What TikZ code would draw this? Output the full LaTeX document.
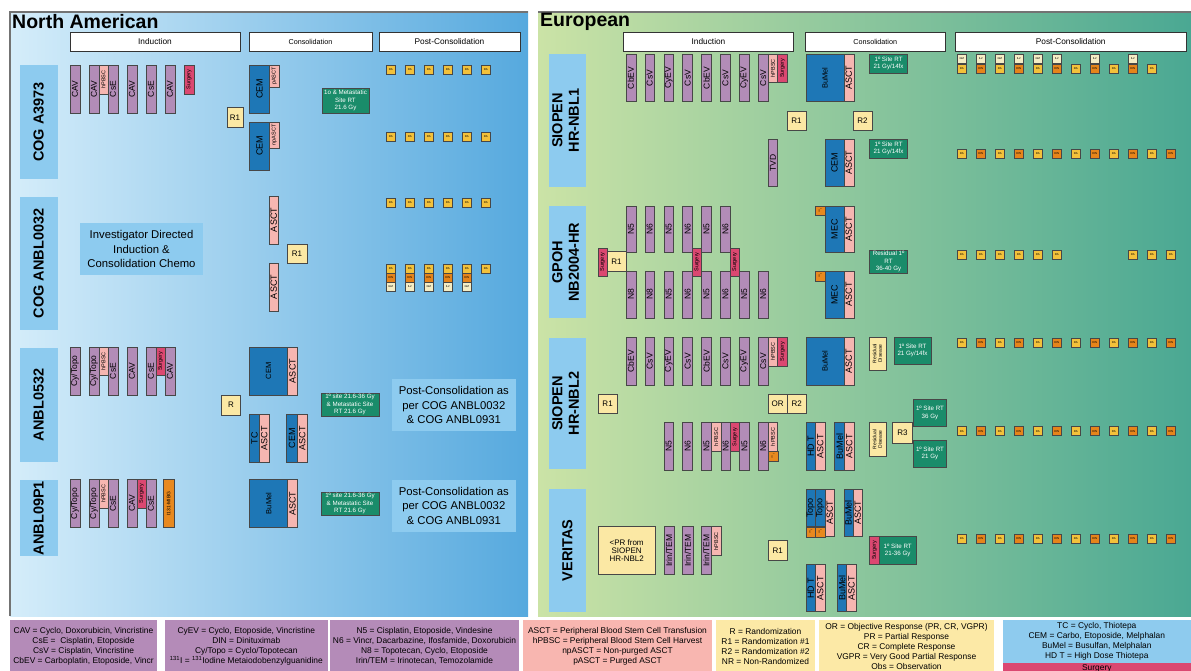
\documentclass[tikz,border=0pt]{standalone}
\usepackage{fontspec}
\setmainfont{Liberation Sans}
\usepackage{graphicx}
\definecolor{cChemo}{HTML}{B28CB7}
\definecolor{cPink}{HTML}{F6B6B1}
\definecolor{cSurg}{HTML}{DB4871}
\definecolor{cBlue}{HTML}{1E77B6}
\definecolor{cRand}{HTML}{FBE8A4}
\definecolor{cRT}{HTML}{1A8C6A}
\definecolor{cMIBG}{HTML}{E8891F}
\definecolor{cRA}{HTML}{F3C13A}
\definecolor{cDIN}{HTML}{E6841A}
\definecolor{cGM}{HTML}{F5EDC4}
\definecolor{cLab}{HTML}{8DCBEF}
\definecolor{naL}{HTML}{D5EDFA}
\definecolor{naR}{HTML}{56A9DE}
\definecolor{euL}{HTML}{CBE3A6}
\definecolor{euM}{HTML}{A2D7CB}
\definecolor{euR}{HTML}{4AA893}
\definecolor{lgPur}{HTML}{B48BB8}
\definecolor{lgPink}{HTML}{F8B6B0}
\definecolor{lgYel}{HTML}{FCE9A6}
\definecolor{lgBlue}{HTML}{8ECBEE}
\newcommand{\rtx}[1]{\rotatebox{90}{#1}}
\newcommand{\rtt}[1]{\rotatebox{90}{\begin{tabular}{@{}c@{}}#1\end{tabular}}}
\newcommand{\bx}[7]{\node[#2,minimum width={(#5-#3)*1pt},minimum height={(#6-#4)*1pt}] (#1) at ({(#3+#5)/2},{(#4+#6)/2}) {#7};}
\newcommand{\sbx}[5]{\node[#2,minimum width=9.5pt,minimum height=9pt] (#1) at ({#3+4.75},{#4+4.5}) {#5};}
\newcommand{\radin}[2]{%
\foreach \i in {0,2,...,10}{\sbx{#1\i}{ra}{957+19*\i}{#2}{RA}}%
\foreach \i in {1,3,...,11}{\sbx{#1\i}{din}{957+19*\i}{#2}{DIN}}}
\tikzset{
 bb/.style={draw=black!72,line width=0.6pt,inner sep=0pt,outer sep=0pt,align=center},
 chemo/.style={bb,fill=cChemo,font=\fontsize{8.5}{8.5}\selectfont},
 pk/.style={bb,fill=cPink,font=\fontsize{9}{9}\selectfont},
 pks/.style={bb,fill=cPink,font=\fontsize{5.5}{5.5}\selectfont},
 surg/.style={bb,fill=cSurg,font=\fontsize{5.5}{5.5}\selectfont},
 bl/.style={bb,fill=cBlue,font=\fontsize{9}{9}\selectfont},
 bls/.style={bb,fill=cBlue,font=\fontsize{7.5}{7.5}\selectfont},
 rnd/.style={bb,fill=cRand,font=\fontsize{8}{8}\selectfont},
 rnds/.style={bb,fill=cRand,font=\fontsize{5}{5.5}\selectfont},
 rtb/.style={bb,fill=cRT,text=white,font=\fontsize{6.2}{7.3}\selectfont},
 mibg/.style={bb,fill=cMIBG,font=\fontsize{5}{5}\selectfont},
 mini/.style={bb,fill=cMIBG,line width=0.4pt,font=\fontsize{2.5}{2.5}\selectfont},
 ra/.style={bb,line width=0.5pt,fill=cRA,font=\fontsize{2.8}{2.8}\selectfont},
 din/.style={ra,fill=cDIN},
 gm/.style={ra,fill=cGM},
 lab/.style={fill=cLab,inner sep=0pt,outer sep=0pt,font=\fontsize{14.5}{16.5}\bfseries\selectfont},
 info/.style={fill=cLab,inner sep=0pt,outer sep=0pt,align=center,font=\fontsize{11.3}{14.5}\selectfont},
 hdr/.style={draw=black!80,fill=white,line width=0.8pt,inner sep=0pt,outer sep=0pt,font=\fontsize{8.3}{8.3}\selectfont},
 hdrs/.style={hdr,font=\fontsize{7.2}{7.2}\selectfont},
 leg/.style={inner sep=0pt,outer sep=0pt,align=center,font=\fontsize{8.4}{10}\selectfont},
 ttl/.style={inner sep=0pt,anchor=west,font=\fontsize{19.5}{19.5}\bfseries\selectfont},
}
\begin{document}
\begin{tikzpicture}[x=1pt,y=-1pt]
\useasboundingbox (0,0) rectangle (1191,671);
\fill[white] (0,0) rectangle (1191,671);
% panels
\fill[left color=naL,right color=naR] (10,12) rectangle (528,616);
\fill[left color=euL,middle color=euM,right color=euR] (538,12) rectangle (1191,616);
\draw[black!55,line width=1.6pt] (10,616) -- (10,12) -- (528,12);
\draw[black!55,line width=1.6pt] (538,12) -- (1191,12);
\node[ttl] (tNA) at (12,22) {North American};
\node[ttl] (tEU) at (540,22) {European};
% headers
\bx{hNAi}{hdr}{70}{32}{240}{51}{Induction}
\bx{hNAc}{hdrs}{249}{32}{372}{51}{Consolidation}
\bx{hNAp}{hdr}{379}{32}{520}{51}{Post-Consolidation}
\bx{hEUi}{hdr}{623.5}{32}{793.5}{51}{Induction}
\bx{hEUc}{hdrs}{805.5}{32}{945}{51}{Consolidation}
\bx{hEUp}{hdr}{955.5}{32}{1186}{51}{Post-Consolidation}
% row labels
\bx{lA3973}{lab}{19.6}{65}{57.5}{179}{\rtx{COG A3973}}
\bx{lA0032}{lab}{19.6}{197}{57.5}{330}{\rtx{COG ANBL0032}}
\bx{lA0532}{lab}{19.6}{347.5}{57.5}{462}{\rtx{ANBL0532}}
\bx{lA09P1}{lab}{19.6}{480}{57.5}{556}{\rtx{ANBL09P1}}
\bx{lNBL1}{lab}{548.8}{54.3}{586}{186.7}{\rtt{SIOPEN\\HR-NBL1}}
\bx{lGPOH}{lab}{548.8}{206}{586}{318}{\rtt{GPOH\\NB2004-HR}}
\bx{lNBL2}{lab}{548.8}{338}{586}{469}{\rtt{SIOPEN\\HR-NBL2}}
\bx{lVER}{lab}{548.8}{489}{586}{611.7}{\rtx{VERITAS}}
% ===== COG A3973
\bx{a1}{chemo}{70}{65}{80}{113}{\rtx{CAV}}
\bx{a2}{chemo}{89}{65}{99}{113}{\rtx{CAV}}
\bx{a3}{pks}{99}{65}{108}{94}{\rtx{hPBSC}}
\bx{a4}{chemo}{108}{65}{118}{113}{\rtx{CsE}}
\bx{a5}{chemo}{127}{65}{137}{113}{\rtx{CAV}}
\bx{a6}{chemo}{146}{65}{156}{113}{\rtx{CsE}}
\bx{a7}{chemo}{165}{65}{175}{113}{\rtx{CAV}}
\bx{a8}{surg}{184}{65}{194}{94}{\rtx{Surgery}}
\bx{a9}{bl}{249.5}{65}{269.5}{113}{\rtx{CEM}}
\bx{a10}{pks}{269.5}{65}{279}{87}{\rtx{pASCT}}
\bx{a11}{rnd}{227}{107.5}{243}{127.5}{R1}
\bx{a12}{bl}{249.5}{122}{269.5}{170}{\rtx{CEM}}
\bx{a13}{pks}{269.5}{122}{279}{148}{\rtx{npASCT}}
\bx{a14}{rtb}{322}{88}{369}{113}{1o \& Metastatic\\Site RT\\21.6 Gy}
\foreach \i in {0,...,5}{\sbx{aRA\i}{ra}{386+19*\i}{65}{RA}}
\foreach \i in {0,...,5}{\sbx{aRB\i}{ra}{386+19*\i}{132}{RA}}
% ===== COG ANBL0032
\bx{b1}{info}{80}{223}{203}{275}{Investigator Directed\\Induction \&\\Consolidation Chemo}
\bx{b2}{pk}{269}{196}{278.5}{244}{\rtx{ASCT}}
\bx{b3}{pk}{269}{263}{278.5}{311}{\rtx{ASCT}}
\bx{b4}{rnd}{287}{244}{307}{263}{R1}
\foreach \i in {0,...,5}{\sbx{bRA\i}{ra}{386+19*\i}{198}{RA}}
\foreach \i in {0,...,5}{\sbx{bRB\i}{ra}{386+19*\i}{264}{RA}}
\foreach \i in {0,...,4}{\sbx{bDN\i}{din}{386+19*\i}{273}{DIN}}
\foreach \i in {0,2,4}{\sbx{bGM\i}{gm}{386+19*\i}{282}{GM}}
\foreach \i in {1,3}{\sbx{bIL\i}{gm}{386+19*\i}{282}{IL2}}
% ===== ANBL0532
\bx{c1}{chemo}{70}{347}{80}{395}{\rtx{Cy/Topo}}
\bx{c2}{chemo}{89}{347}{99}{395}{\rtx{Cy/Topo}}
\bx{c3}{pks}{99}{347}{108}{375.5}{\rtx{hPBSC}}
\bx{c4}{chemo}{108}{347}{118}{395}{\rtx{CsE}}
\bx{c5}{chemo}{127}{347}{137}{395}{\rtx{CAV}}
\bx{c6}{chemo}{146}{347}{156}{395}{\rtx{CsE}}
\bx{c7}{surg}{156}{347}{165}{375.5}{\rtx{Surgery}}
\bx{c8}{chemo}{165}{347}{175}{395}{\rtx{CAV}}
\bx{c9}{bls}{249.5}{347}{287.7}{395}{\rtx{CEM}}
\bx{c10}{pk}{287.7}{347}{297.5}{395}{\rtx{ASCT}}
\bx{c11}{rnd}{221.4}{395}{240.7}{415}{R}
\bx{c12}{bl}{249.5}{414}{259.3}{462.5}{\rtx{TC}}
\bx{c13}{pk}{259.3}{414}{269.4}{462.5}{\rtx{ASCT}}
\bx{c14}{bl}{286.3}{414}{297.5}{462.5}{\rtx{CEM}}
\bx{c15}{pk}{297.5}{414}{307}{462.5}{\rtx{ASCT}}
\bx{c16}{rtb}{321}{393}{379}{416}{1º site 21.6-36 Gy\\\& Metastatic Site\\RT 21.6 Gy}
\bx{c17}{info}{392}{379}{515.6}{431}{Post-Consolidation as\\per COG ANBL0032\\\& COG ANBL0931}
% ===== ANBL09P1
\bx{d1}{chemo}{70}{479.5}{80}{527.5}{\rtx{Cy/Topo}}
\bx{d2}{chemo}{89}{479.5}{99}{527.5}{\rtx{Cy/Topo}}
\bx{d3}{pks}{99}{479.5}{108}{508}{\rtx{hPBSC}}
\bx{d4}{chemo}{108}{479.5}{118}{527.5}{\rtx{CsE}}
\bx{d5}{chemo}{127}{479.5}{137}{527.5}{\rtx{CAV}}
\bx{d6}{surg}{137}{479.5}{146}{508}{\rtx{Surgery}}
\bx{d7}{chemo}{146}{479.5}{156}{527.5}{\rtx{CsE}}
\bx{d8}{mibg}{163.6}{479.5}{173.8}{527.5}{\rtx{I131-MIBG}}
\bx{d9}{bls}{249.5}{479.5}{287.7}{527.5}{\rtx{BuMel}}
\bx{d10}{pk}{287.7}{479.5}{297.5}{527.5}{\rtx{ASCT}}
\bx{d11}{rtb}{321}{492}{379}{515}{1º site 21.6-36 Gy\\\& Metastatic Site\\RT 21.6 Gy}
\bx{d12}{info}{392}{479.5}{515.6}{532}{Post-Consolidation as\\per COG ANBL0032\\\& COG ANBL0931}
% ===== SIOPEN HR-NBL1
\bx{e1}{chemo}{626}{54.3}{635.8}{101.7}{\rtx{CbEV}}
\bx{e2}{chemo}{644.9}{54.3}{654.7}{101.7}{\rtx{CsV}}
\bx{e3}{chemo}{663.8}{54.3}{673.6}{101.7}{\rtx{CyEV}}
\bx{e4}{chemo}{682.7}{54.3}{692.5}{101.7}{\rtx{CsV}}
\bx{e5}{chemo}{701.6}{54.3}{711.4}{101.7}{\rtx{CbEV}}
\bx{e6}{chemo}{720.5}{54.3}{730.3}{101.7}{\rtx{CsV}}
\bx{e7}{chemo}{739.4}{54.3}{749.2}{101.7}{\rtx{CyEV}}
\bx{e8}{chemo}{758.3}{54.3}{768.1}{101.7}{\rtx{CsV}}
\bx{e9}{pks}{768.1}{54.3}{777.7}{82}{\rtx{hPBSC}}
\bx{e10}{surg}{777.7}{54.3}{787.3}{82}{\rtx{Surgery}}
\bx{e11}{bls}{806}{54.3}{843.8}{101.7}{\rtx{BuMel}}
\bx{e12}{pk}{843.8}{54.3}{853.8}{101.7}{\rtx{ASCT}}
\bx{e13}{rtb}{869.7}{54.3}{907.4}{73}{1º Site RT\\21 Gy/14fx}
\bx{e14}{rnd}{787}{111}{806}{130}{R1}
\bx{e15}{rnd}{853}{111}{872}{130}{R2}
\bx{e16}{chemo}{768.1}{139}{777.7}{186.7}{\rtx{TVD}}
\bx{e17}{bl}{825}{139}{843.8}{186.7}{\rtx{CEM}}
\bx{e18}{pk}{843.8}{139}{853.8}{186.7}{\rtx{ASCT}}
\bx{e19}{rtb}{869.7}{139}{907.4}{158}{1º Site RT\\21 Gy/14fx}
\foreach \i in {0,2,4}{\sbx{eGM\i}{gm}{957+19*\i}{54.3}{GM}}
\foreach \i in {1,3,5,7,9}{\sbx{eIL\i}{gm}{957+19*\i}{54.3}{IL2}}
\foreach \i in {0,2,...,10}{\sbx{eRA\i}{ra}{957+19*\i}{64.3}{RA}}
\foreach \i in {1,3,5,7,9}{\sbx{eDN\i}{din}{957+19*\i}{64.3}{DIN}}
\radin{eB}{149}
% ===== GPOH NB2004-HR
\bx{g1}{surg}{597.8}{248}{607}{276}{\rtx{Surgery}}
\bx{g2}{rnd}{607}{251.7}{626}{271}{R1}
\bx{g3}{chemo}{626}{206}{635.8}{252.3}{\rtx{N5}}
\bx{g4}{chemo}{644.9}{206}{654.7}{252.3}{\rtx{N6}}
\bx{g5}{chemo}{663.8}{206}{673.6}{252.3}{\rtx{N5}}
\bx{g6}{chemo}{682.7}{206}{692.5}{252.3}{\rtx{N6}}
\bx{g7}{chemo}{701.6}{206}{711.4}{252.3}{\rtx{N5}}
\bx{g8}{chemo}{720.5}{206}{730.3}{252.3}{\rtx{N6}}
\bx{g9}{chemo}{626}{271}{635.8}{318}{\rtx{N8}}
\bx{g10}{chemo}{644.9}{271}{654.7}{318}{\rtx{N8}}
\bx{g11}{chemo}{663.8}{271}{673.6}{318}{\rtx{N5}}
\bx{g12}{chemo}{682.7}{271}{692.5}{318}{\rtx{N6}}
\bx{g13}{chemo}{701.6}{271}{711.4}{318}{\rtx{N5}}
\bx{g14}{chemo}{720.5}{271}{730.3}{318}{\rtx{N6}}
\bx{g15}{chemo}{739.4}{271}{749.2}{318}{\rtx{N5}}
\bx{g16}{chemo}{758.3}{271}{768.1}{318}{\rtx{N6}}
\bx{g17}{surg}{692.5}{248}{701.6}{276}{\rtx{Surgery}}
\bx{g18}{surg}{730.3}{248}{739.4}{276}{\rtx{Surgery}}
\bx{g19}{bl}{825}{206}{843.8}{252.3}{\rtx{MEC}}
\bx{g20}{pk}{843.8}{206}{853.8}{252.3}{\rtx{ASCT}}
\bx{g21}{mini}{815.3}{206}{825}{215}{\rtx{\textsuperscript{131}I}}
\bx{g22}{bl}{825}{271}{843.8}{318}{\rtx{MEC}}
\bx{g23}{pk}{843.8}{271}{853.8}{318}{\rtx{ASCT}}
\bx{g24}{mini}{815.3}{271}{825}{280.7}{\rtx{\textsuperscript{131}I}}
\bx{g25}{rtb}{869.7}{250}{907.4}{273.3}{Residual 1º\\RT\\36-40 Gy}
\foreach \i in {0,...,5,9,10,11}{\sbx{gRA\i}{ra}{957+19*\i}{250}{RA}}
% ===== SIOPEN HR-NBL2
\bx{n1}{chemo}{626}{337.3}{635.8}{385}{\rtx{CbEV}}
\bx{n2}{chemo}{644.9}{337.3}{654.7}{385}{\rtx{CsV}}
\bx{n3}{chemo}{663.8}{337.3}{673.6}{385}{\rtx{CyEV}}
\bx{n4}{chemo}{682.7}{337.3}{692.5}{385}{\rtx{CsV}}
\bx{n5}{chemo}{701.6}{337.3}{711.4}{385}{\rtx{CbEV}}
\bx{n6}{chemo}{720.5}{337.3}{730.3}{385}{\rtx{CsV}}
\bx{n7}{chemo}{739.4}{337.3}{749.2}{385}{\rtx{CyEV}}
\bx{n8}{chemo}{758.3}{337.3}{768.1}{385}{\rtx{CsV}}
\bx{n9}{pks}{768.1}{337.3}{777.7}{366}{\rtx{hPBSC}}
\bx{n10}{surg}{777.7}{337.3}{787.3}{366}{\rtx{Surgery}}
\bx{n11}{bls}{806}{337.3}{843.8}{385}{\rtx{BuMel}}
\bx{n12}{pk}{843.8}{337.3}{853.8}{385}{\rtx{ASCT}}
\bx{n13}{rnds}{869.7}{337.3}{886.5}{370}{\rtt{Residual\\Disease}}
\bx{n14}{rtb}{894}{337.3}{931}{364}{1º Site RT\\21 Gy/14fx}
\bx{n15}{rnd}{597.8}{394}{617.4}{413.3}{R1}
\bx{n16}{rnd}{768}{394}{787.3}{413.3}{OR}
\bx{n17}{rnd}{787.3}{394}{806}{413.3}{R2}
\bx{n18}{chemo}{663.8}{422.7}{673.6}{470}{\rtx{N5}}
\bx{n19}{chemo}{682.7}{422.7}{692.5}{470}{\rtx{N6}}
\bx{n20}{chemo}{701.6}{422.7}{711.4}{470}{\rtx{N5}}
\bx{n21}{pks}{711.4}{422.7}{720.8}{451.3}{\rtx{hPBSC}}
\bx{n22}{chemo}{720.8}{422.7}{730.4}{470}{\rtx{N6}}
\bx{n23}{surg}{730.4}{422.7}{739.6}{451.3}{\rtx{Surgery}}
\bx{n24}{chemo}{739.6}{422.7}{749.2}{470}{\rtx{N5}}
\bx{n25}{chemo}{758.3}{422.7}{768.1}{470}{\rtx{N6}}
\bx{n26}{pks}{768.1}{422.7}{777.7}{451.3}{\rtx{hPBSC}}
\bx{n27}{mini}{768.1}{451.3}{777.7}{460.7}{\rtx{\textsuperscript{131}I}}
\bx{n28}{bl}{806}{422.7}{815.3}{470}{\rtx{HD T}}
\bx{n29}{pk}{815.3}{422.7}{825}{470}{\rtx{ASCT}}
\bx{n30}{bl}{834.6}{422.7}{844.6}{470}{\rtx{BuMel}}
\bx{n31}{pk}{844.6}{422.7}{853.8}{470}{\rtx{ASCT}}
\bx{n32}{rnds}{869.7}{422.7}{886.5}{456}{\rtt{Residual\\Disease}}
\bx{n33}{rnd}{892.7}{422.7}{912.4}{443.3}{R3}
\bx{n34}{rtb}{913.7}{399}{946.3}{426.7}{1º Site RT\\36 Gy}
\bx{n35}{rtb}{913.7}{440}{946.3}{467.3}{1º Site RT\\21 Gy}
\radin{nA}{338.3}
\radin{nB}{426.7}
% ===== VERITAS
\bx{v1}{rnd}{597.8}{526.7}{655.5}{574.3}{<PR from\\SIOPEN\\HR-NBL2}
\bx{v2}{chemo}{664}{526.7}{674.3}{574.3}{\rtx{Irin/TEM}}
\bx{v3}{chemo}{682.7}{526.7}{693}{574.3}{\rtx{Irin/TEM}}
\bx{v4}{chemo}{701.5}{526.7}{711.2}{574.3}{\rtx{Irin/TEM}}
\bx{v5}{pks}{711.2}{526.7}{721}{555.7}{\rtx{hPBSC}}
\bx{v6}{rnd}{768}{540.7}{787.3}{560}{R1}
\bx{v7}{bl}{806}{489}{815.3}{526.7}{\rtx{Topo}}
\bx{v8}{bl}{815.3}{489}{825}{526.7}{\rtx{Topo}}
\bx{v9}{mini}{806}{526.7}{815.3}{536.7}{\rtx{\textsuperscript{131}I}}
\bx{v10}{mini}{815.3}{526.7}{825}{536.7}{\rtx{\textsuperscript{131}I}}
\bx{v11}{pk}{825}{489}{834.6}{536.7}{\rtx{ASCT}}
\bx{v12}{bl}{843.8}{489}{853}{536.7}{\rtx{BuMel}}
\bx{v13}{pk}{853}{489}{862.6}{536.7}{\rtx{ASCT}}
\bx{v14}{surg}{869.7}{536}{879.4}{564.3}{\rtx{Surgery}}
\bx{v15}{rtb}{879.4}{536}{916}{564.3}{1º Site RT\\21-36 Gy}
\bx{v16}{bl}{806}{564.3}{815.3}{611.7}{\rtx{HD T}}
\bx{v17}{pk}{815.3}{564.3}{825}{611.7}{\rtx{ASCT}}
\bx{v18}{bl}{837.5}{564.3}{846.7}{611.7}{\rtx{BuMel}}
\bx{v19}{pk}{846.7}{564.3}{856.3}{611.7}{\rtx{ASCT}}
\radin{vA}{534.3}
% ===== legend
\bx{L1}{leg,fill=lgPur}{10}{620}{157}{672}{CAV = Cyclo, Doxorubicin, Vincristine\\CsE =\ \ Cisplatin, Etoposide\\CsV = Cisplatin, Vincristine\\CbEV = Carboplatin, Etoposide, Vincr}
\bx{L2}{leg,fill=lgPur}{165}{620}{327.6}{672}{CyEV = Cyclo, Etoposide, Vincristine\\DIN = Dinituximab\\Cy/Topo = Cyclo/Topotecan\\\textsuperscript{131}I = \textsuperscript{131}Iodine Metaiodobenzylguanidine}
\bx{L3}{leg,fill=lgPur}{330}{620}{519}{672}{N5 = Cisplatin, Etoposide, Vindesine\\N6 = Vincr, Dacarbazine, Ifosfamide, Doxorubicin\\N8 = Topotecan, Cyclo, Etoposide\\Irin/TEM = Irinotecan, Temozolamide}
\bx{L4}{leg,fill=lgPink}{523}{620}{712}{672}{ASCT = Peripheral Blood Stem Cell Transfusion\\hPBSC = Peripheral Blood Stem Cell Harvest\\npASCT = Non-purged ASCT\\pASCT = Purged ASCT}
\bx{L5}{leg,fill=lgYel}{716}{620}{815}{672}{R = Randomization\\R1 = Randomization \#1\\R2 = Randomization \#2\\NR = Non-Randomized}
\bx{L6}{leg,fill=lgYel}{819}{620}{994}{672}{OR = Objective Response (PR, CR, VGPR)\\PR = Partial Response\\CR = Complete Response\\VGPR = Very Good Partial Response\\Obs = Observation}
\bx{L7}{leg,fill=lgBlue}{1002.6}{620}{1191}{662.5}{TC = Cyclo, Thiotepa\\CEM = Carbo, Etoposide, Melphalan\\BuMel = Busulfan, Melphalan\\HD T = High Dose Thiotepa}
\bx{L8}{leg,fill=cSurg}{1002.6}{662.5}{1191}{674}{Surgery}
\end{tikzpicture}
\end{document}
